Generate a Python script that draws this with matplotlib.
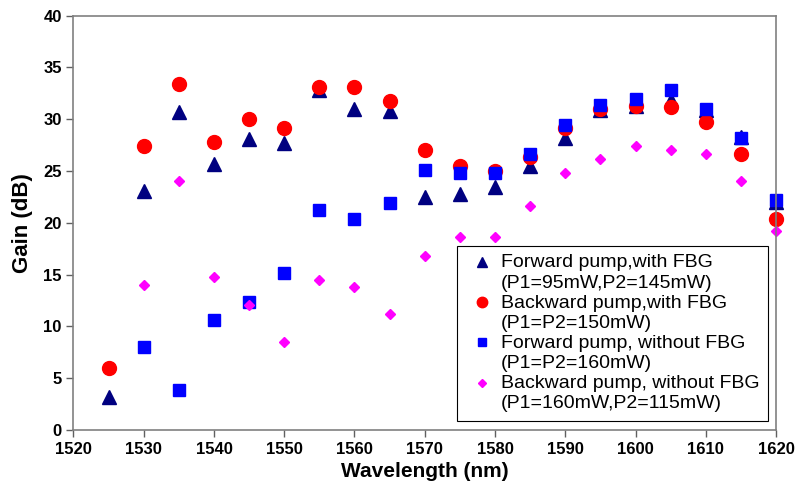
import matplotlib
matplotlib.use("Agg")
import numpy as np
import matplotlib.pyplot as plt
from matplotlib.legend_handler import HandlerLine2D

# =========================
# DATA
# =========================

wl = [1525, 1530, 1535, 1540, 1545, 1550, 1555, 1560, 1565, 1570,
      1575, 1580, 1585, 1590, 1595, 1600, 1605, 1610, 1615, 1620]

fwd_fbg = [3.2, 23.1, 30.7, 25.7, 28.1, 27.7, 32.8, 31.0, 30.8, 22.5,
           22.8, 23.5, 25.5, 28.2, 30.9, 31.3, 31.9, 30.9, 28.3, 22.0]

bwd_fbg = [6.0, 27.4, 33.4, 27.8, 30.0, 29.2, 33.1, 33.1, 31.8, 27.0,
           25.5, 25.0, 26.4, 29.2, 31.0, 31.3, 31.2, 29.7, 26.6, 20.4]

wl_nofbg = wl[1:]
fwd_nofbg = [8.0, 3.9, 10.6, 12.4, 15.2, 21.2, 20.4, 21.9, 25.1,
             24.8, 24.8, 26.6, 29.4, 31.4, 32.0, 32.8, 31.0, 28.2, 22.2]
bwd_nofbg = [14.0, 24.0, 14.8, 12.1, 8.5, 14.5, 13.8, 11.2, 16.8,
             18.6, 18.6, 21.6, 24.8, 26.2, 27.4, 27.0, 26.6, 24.0, 19.2]

labels = [
    "Forward pump,with FBG\n(P1=95mW,P2=145mW)",
    "Backward pump,with FBG\n(P1=P2=150mW)",
    "Forward pump, without FBG\n(P1=P2=160mW)",
    "Backward pump, without FBG\n(P1=160mW,P2=115mW)",
]


# legend marker sits on the first text line, like the original
class FirstLineHandler(HandlerLine2D):
    def create_artists(self, legend, orig_handle, xdescent, ydescent,
                       width, height, fontsize, trans):
        arts = super().create_artists(legend, orig_handle, xdescent, ydescent,
                                      width, height, fontsize, trans)
        for a in arts:
            a.set_ydata(np.asarray(a.get_ydata()) + 0.55 * fontsize)
        return arts


# =========================
# PLOTTING
# =========================

plt.rcParams["font.family"] = ["Liberation Sans", "DejaVu Sans"]

fig = plt.figure(figsize=(8.02, 4.86), dpi=100)
ax = fig.add_axes([0.0916, 0.1152, 0.876, 0.8525])

ax.plot(wl, fwd_fbg, "^", color="#000080", markersize=9.5, label=labels[0],
        clip_on=False)
ax.plot(wl, bwd_fbg, "o", color="#ff0000", markersize=10, label=labels[1],
        clip_on=False)
ax.plot(wl_nofbg, fwd_nofbg, "s", color="#0000ff", markersize=8.5,
        label=labels[2], clip_on=False)
ax.plot(wl_nofbg, bwd_nofbg, "D", color="#ff00ff", markersize=5.5,
        label=labels[3], clip_on=False)

ax.set_xlim(1520, 1620)
ax.set_ylim(0, 40)
ax.set_xticks(range(1520, 1621, 10))
ax.set_yticks(range(0, 41, 5))

for s in ax.spines.values():
    s.set_color("#808080")
    s.set_linewidth(1.2)
ax.tick_params(direction="out", length=5, color="#606060", width=1,
               labelsize=12)
for t in ax.get_xticklabels() + ax.get_yticklabels():
    t.set_fontweight("bold")

ax.set_xlabel("Wavelength (nm)", fontsize=15, fontweight="bold", labelpad=4)
ax.set_ylabel("Gain (dB)", fontsize=16, fontweight="bold", labelpad=7)

leg = ax.legend(loc="lower right", bbox_to_anchor=(0.989, 0.022),
                borderaxespad=0, fontsize=14, fancybox=False,
                edgecolor="#000000", framealpha=1, handletextpad=0.15,
                labelspacing=0.15, handlelength=1.65, borderpad=0.45,
                markerscale=0.75,
                handler_map={matplotlib.lines.Line2D: FirstLineHandler()})
leg.get_frame().set_linewidth(0.8)
for t in leg.get_texts():
    t.set_linespacing(1.25)

fig.savefig("out.png", dpi=100)
